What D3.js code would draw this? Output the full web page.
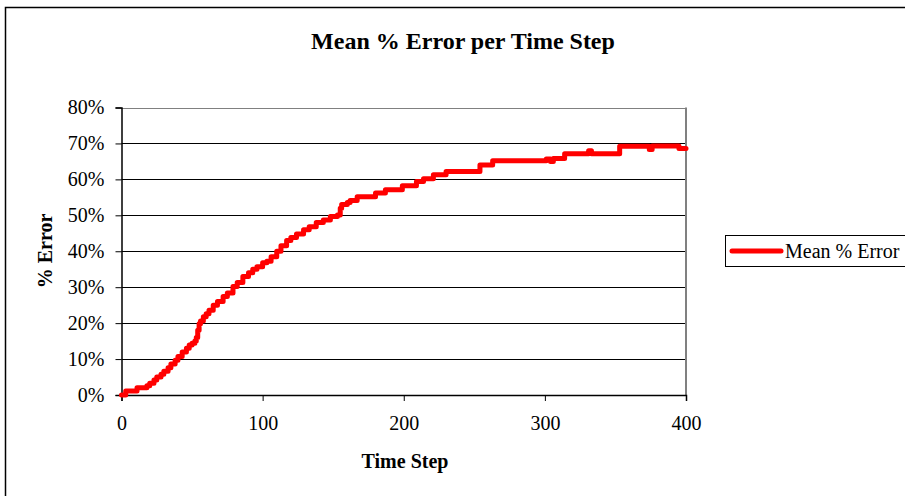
<!DOCTYPE html>
<html>
<head>
<meta charset="utf-8">
<script src="https://cdn.jsdelivr.net/npm/d3@7"></script>
<style>
  body { margin: 0; background: #fff; }
  text { font-family: "Liberation Serif", "Times New Roman", serif; }
</style>
</head>
<body>
<svg id="chart"></svg>
<script>
// time steps where the mean error changes (step function)
const timeSteps = [0, 3, 11, 18, 20, 23, 25, 28, 30, 33, 35, 38, 40, 43, 46, 48, 50, 52, 53, 54, 55, 56,
  58, 60, 62, 65, 68, 72, 75, 79, 82, 86, 90, 93, 96, 100, 103, 106, 110, 113, 117, 120, 124, 129,
  133, 138, 143, 148, 153, 155, 156, 160, 162, 167, 180, 187, 199, 209, 214, 221, 230, 254, 263,
  301, 304, 306, 314, 331, 333, 353, 374, 376, 395, 400];
const meanError = [0, 1.1, 2.0, 2.6, 3.3, 4.2, 5.0, 5.8, 6.6, 7.6, 8.6, 9.7, 10.7, 12.0, 13.0, 13.9, 14.4, 15.0, 16.0, 18.0, 19.8, 20.6,
  21.8, 22.6, 23.6, 25.0, 26.0, 27.4, 28.4, 30.2, 31.3, 33.0, 34.0, 35.0, 35.7, 36.8, 37.2, 38.5, 40.0, 41.5, 43.0, 43.8, 44.8, 46.0,
  46.8, 48.0, 48.7, 49.7, 50.1, 52.0, 53.0, 53.6, 54.1, 55.2, 56.2, 57.1, 58.2, 59.4, 60.2, 61.3, 62.2, 64.0, 65.2,
  65.7, 65.0, 65.8, 67.1, 68.0, 67.1, 69.2, 68.3, 69.3, 68.6, 68.6];
const xTicks = [0, 100, 200, 300, 400];
const yTicks = [0, 10, 20, 30, 40, 50, 60, 70, 80];

const width = 905;
const height = 496;
const plot = { left: 121.5, right: 686, top: 107.5, bottom: 395 };

const svg = d3.select('#chart')
  .attr('width', width)
  .attr('height', height);

// outer chart border
svg.append('rect')
  .attr('x', 5.5).attr('y', 7.5)
  .attr('width', 920).attr('height', 520)
  .attr('fill', 'none')
  .attr('stroke', '#000')
  .attr('stroke-width', 1.5);

const x = d3.scaleLinear().domain([0, 400]).range([plot.left, plot.right]);
const y = d3.scaleLinear().domain([0, 80]).range([plot.bottom, plot.top]);

// gridlines
svg.append('g')
  .selectAll('line')
  .data(yTicks.slice(1))
  .join('line')
  .attr('x1', plot.left).attr('x2', plot.right)
  .attr('y1', d => Math.round(y(d)) + 0.5).attr('y2', d => Math.round(y(d)) + 0.5)
  .attr('stroke', d => d === 80 ? '#808080' : '#000')
  .attr('stroke-width', 1);

// right border of plot area
svg.append('line')
  .attr('x1', plot.right).attr('x2', plot.right)
  .attr('y1', plot.top).attr('y2', plot.bottom)
  .attr('stroke', '#808080').attr('stroke-width', 2);

// y axis
const yAxis = svg.append('g')
  .attr('transform', `translate(${plot.left},0)`)
  .call(d3.axisLeft(y).tickValues(yTicks).tickFormat(d => d + '%').tickSize(6).tickPadding(11));

// x axis
const xAxis = svg.append('g')
  .attr('transform', `translate(0,${plot.bottom})`)
  .call(d3.axisBottom(x).tickValues(xTicks).tickSize(6).tickPadding(15));

[yAxis, xAxis].forEach(g => {
  g.select('.domain').attr('stroke', '#000').attr('stroke-width', 1.5);
  g.selectAll('.tick line').attr('stroke', '#000');
  g.selectAll('text')
    .attr('font-family', '"Liberation Serif", "Times New Roman", serif')
    .attr('font-size', 20)
    .attr('fill', '#000');
});

// data line
const pts = timeSteps.map((t, i) => [t, meanError[i]]);
const line = d3.line()
  .x(d => x(d[0]))
  .y(d => y(d[1]))
  .curve(d3.curveStepAfter);

svg.append('path')
  .datum(pts)
  .attr('d', line)
  .attr('fill', 'none')
  .attr('stroke', '#ff0000')
  .attr('stroke-width', 5)
  .attr('stroke-linejoin', 'round')
  .attr('stroke-linecap', 'round');

// titles
svg.append('text')
  .attr('x', 463).attr('y', 49)
  .attr('text-anchor', 'middle')
  .attr('font-weight', 'bold')
  .attr('font-size', 24)
  .text('Mean % Error per Time Step');

svg.append('text')
  .attr('x', 405).attr('y', 468)
  .attr('text-anchor', 'middle')
  .attr('font-weight', 'bold')
  .attr('font-size', 20)
  .text('Time Step');

svg.append('text')
  .attr('transform', 'translate(52,251) rotate(-90)')
  .attr('text-anchor', 'middle')
  .attr('font-weight', 'bold')
  .attr('font-size', 20)
  .text('% Error');

// legend
const legend = svg.append('g');
legend.append('rect')
  .attr('x', 725.5).attr('y', 235.5)
  .attr('width', 200).attr('height', 31)
  .attr('fill', '#fff')
  .attr('stroke', '#000')
  .attr('stroke-width', 1);
legend.append('line')
  .attr('x1', 732).attr('x2', 781)
  .attr('y1', 251).attr('y2', 251)
  .attr('stroke', '#ff0000')
  .attr('stroke-width', 5)
  .attr('stroke-linecap', 'round');
legend.append('text')
  .attr('x', 785).attr('y', 258)
  .attr('font-size', 20)
  .text('Mean % Error');
</script>
</body>
</html>
